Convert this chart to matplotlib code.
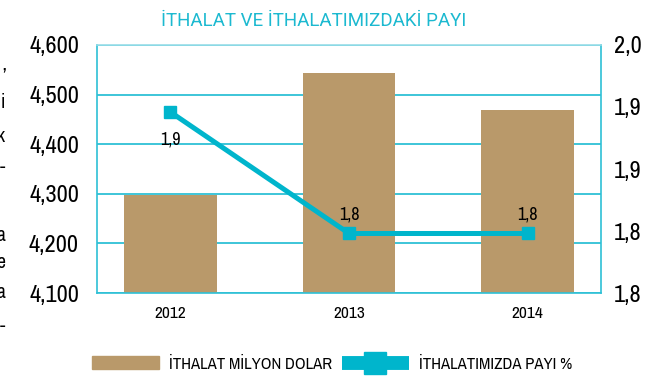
import matplotlib.pyplot as plt
from matplotlib import font_manager
from matplotlib.lines import Line2D
from matplotlib.patches import Patch
import math

# -----------------------
# Data
# -----------------------
years = ["2012", "2013", "2014"]
imports_musd = [4297, 4543, 4469]          # ithalat, milyon dolar
share_pct = [1.946, 1.848, 1.848]          # ithalatımızdaki payı, %

left_ticks = [4100, 4200, 4300, 4400, 4500, 4600]
right_ticks = [1.80, 1.85, 1.90, 1.95, 2.00]
right_labels = ["1,8", "1,8", "1,9", "1,9", "2,0"]

title = "İTHALAT VE İTHALATIMIZDAKİ PAYI"
bar_name = "İTHALAT MİLYON DOLAR"
line_name = "İTHALATIMIZDA PAYI %"

# text fragments of the neighbouring column (cut at the page edge)
side_chars = ["’", "i", "k", "-", "a", "e", "a", "-"]
side_y = [0.80, 0.73, 0.64, 0.56, 0.38, 0.31, 0.23, 0.14]

# -----------------------
# Styles
# -----------------------
bar_color = "#B9996A"
line_color = "#00B5CC"
grid_color = "#2EC0D6"
title_color = "#1CB9D0"

# look for a narrow face; fall back to Roboto
stretch_rank = {"condensed": 0, "semi-condensed": 1, "extra-condensed": 2,
                "ultra-condensed": 3}


def face_rank(f):
    st = str(f.stretch)
    r = stretch_rank.get(st, 1 if ("Condensed" in f.name or "Narrow" in f.name) else 9)
    return (r, "Mono" in f.name, "Serif" in f.name, f.name)


narrow_faces = [f for f in font_manager.fontManager.ttflist
                if ("Condensed" in f.name or "Narrow" in f.name
                    or "condensed" in str(f.stretch))
                and f.weight in (400, "normal", "regular") and f.style == "normal"]
narrow_faces.sort(key=face_rank)
if narrow_faces:
    narrow_prop = font_manager.FontProperties(fname=narrow_faces[0].fname)
    shrink = 1.0
else:
    narrow_prop = font_manager.FontProperties(family="Roboto")
    shrink = 0.85


def fp(size):
    p = narrow_prop.copy()
    p.set_size(size * shrink)
    return p


def trunc1(v):
    return f"{math.floor(v * 10 + 1e-9) / 10:.1f}".replace(".", ",")


fig = plt.figure(figsize=(6.71, 3.80), dpi=100)
ax = fig.add_axes([0.1446, 0.2289, 0.8957 - 0.1446, 0.8816 - 0.2289])
ax2 = ax.twinx()

x = list(range(len(years)))

# bars on the left axis
ax.bar(x, imports_musd, width=0.52, color=bar_color, zorder=2)
ax.set_ylim(4100, 4600)
ax.set_yticks(left_ticks)
ax.set_yticklabels([f"{v:,}" for v in left_ticks], fontproperties=fp(17.5))
ax.set_xlim(-0.41, 2.41)
ax.set_xticks(x)
ax.set_xticklabels(years, fontproperties=fp(12.5))
ax.tick_params(axis="x", length=0, pad=9)
ax.tick_params(axis="y", length=0, pad=13)
ax.yaxis.grid(True, color=grid_color, lw=1.3, zorder=0)
ax.set_axisbelow(True)
for s in ax.spines.values():
    s.set_color(grid_color)
    s.set_linewidth(1.2)
ax.spines["top"].set_color("#9ADDE8")

# share line on the right axis
ax2.plot(x, share_pct, color=line_color, lw=3.6, marker="s", ms=8.5,
         mec=line_color, zorder=3)
ax2.set_ylim(1.8, 2.0)
ax2.set_yticks(right_ticks)
ax2.set_yticklabels(right_labels, fontproperties=fp(17.5))
ax2.tick_params(axis="y", length=0, pad=9)
for s in ax2.spines.values():
    s.set_visible(False)

for i, v in enumerate(share_pct):
    off = -20 if i == 0 else 14
    ax2.annotate(trunc1(v), (x[i], v), xytext=(0, off), textcoords="offset points",
                 ha="center", va="center", fontproperties=fp(13))

# -----------------------
# Title, legend, page-edge text
# -----------------------
fig.text(0.467, 0.945, title, color=title_color, fontsize=13.5,
         ha="center", va="center", family=["Roboto", "DejaVu Sans"])

handles = [
    Patch(color=bar_color, label=bar_name),
    Line2D([], [], color=line_color, lw=10, marker="s", ms=16,
           solid_capstyle="butt", label=line_name),
]
fig.legend(handles=handles, loc="center", bbox_to_anchor=(0.495, 0.042), ncol=2,
           frameon=False, prop=fp(12), handlelength=4.0, handleheight=0.8,
           handletextpad=0.6, columnspacing=0.6)

for ch, yy in zip(side_chars, side_y):
    fig.text(0.008, yy, ch, ha="right", va="center", fontproperties=fp(14))

plt.savefig("out.png", dpi=100)
